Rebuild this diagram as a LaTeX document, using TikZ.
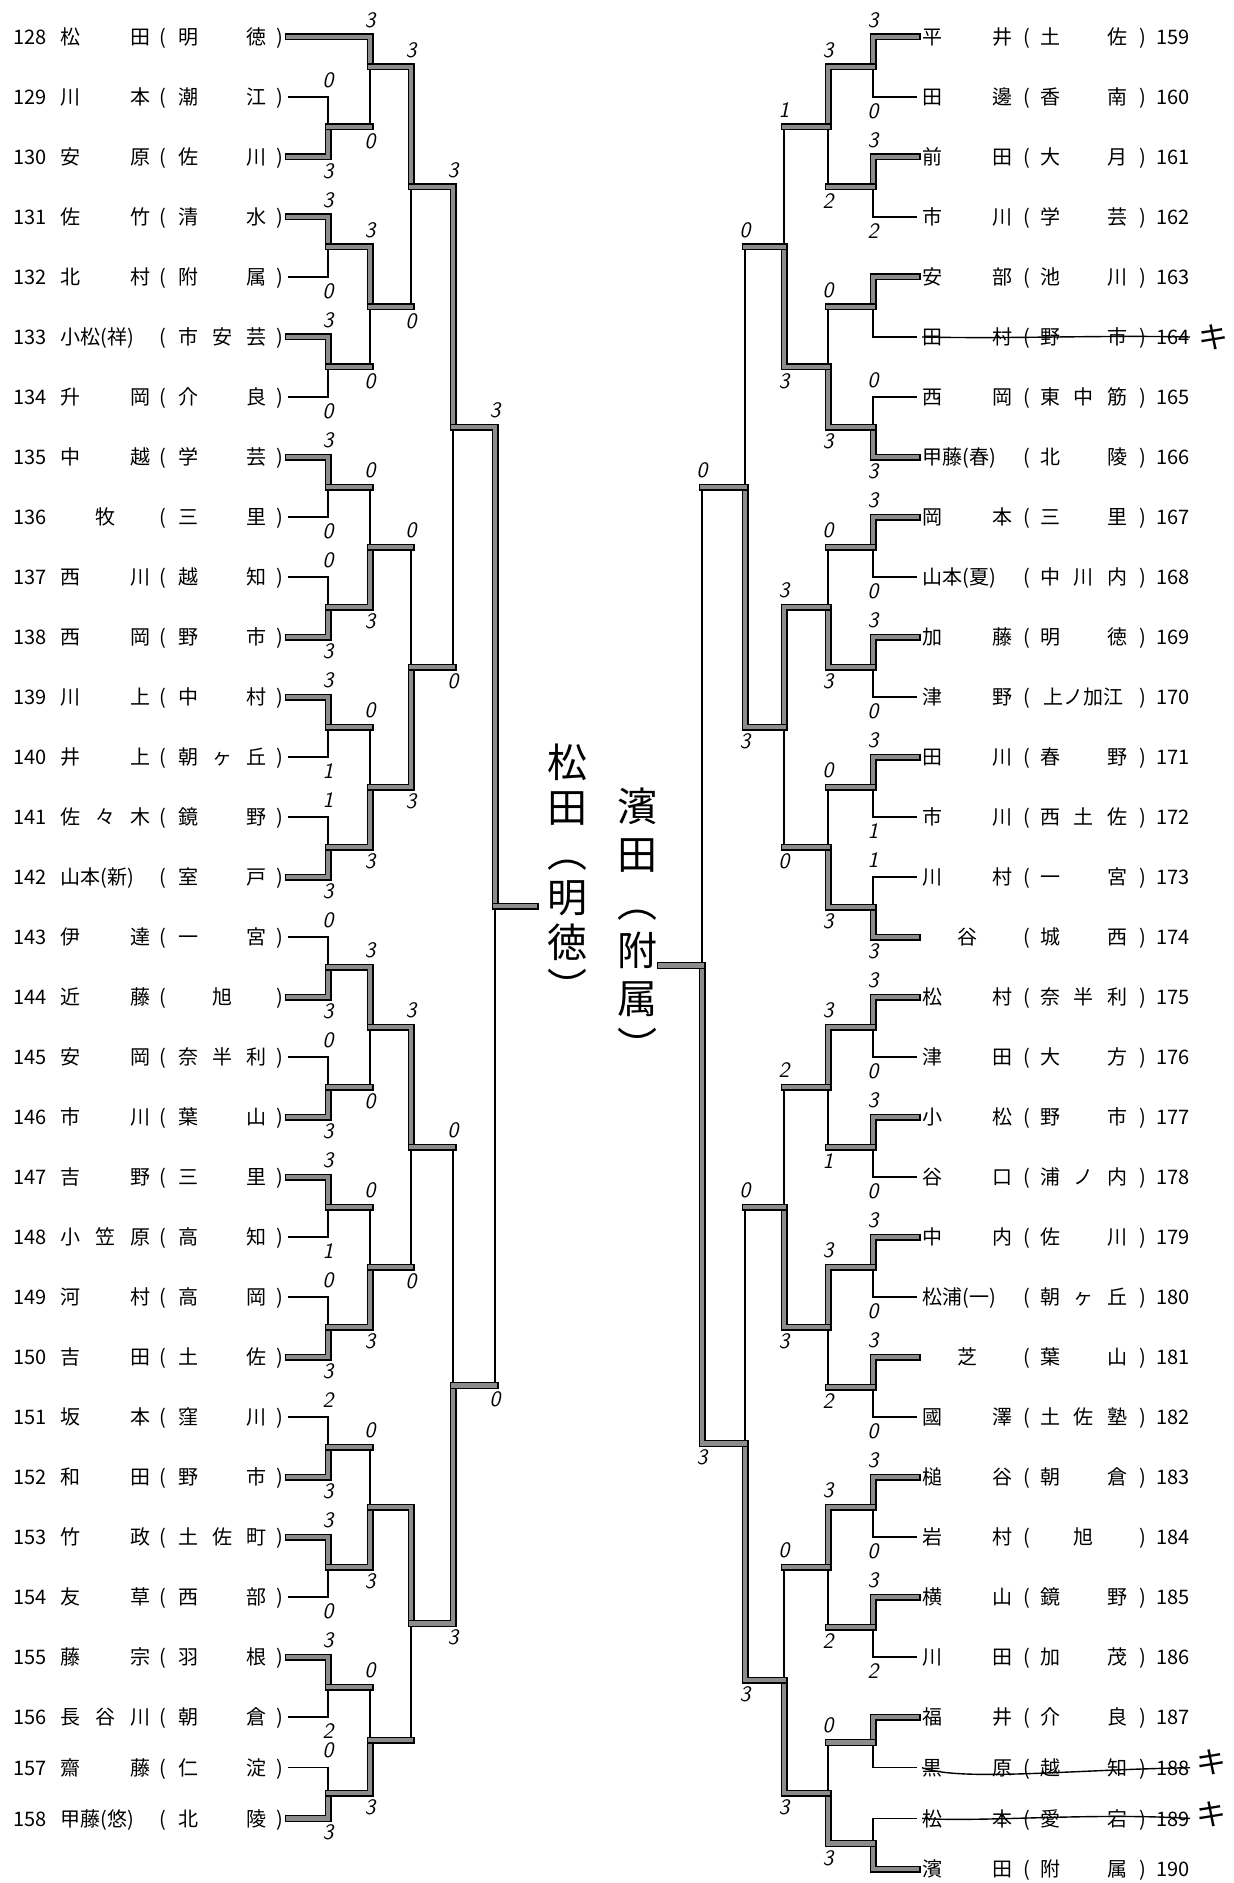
\documentclass[tikz,border=0pt]{standalone}
\usepackage{fontspec}
\newfontfamily\jp{Noto Sans CJK JP}
\usetikzlibrary{calc,positioning}

\begin{document}
\begin{tikzpicture}[x=0.5pt, y=-0.5pt,
    entry/.style={inner sep=0pt, text height=0.88em, text depth=0.12em,
      font=\jp\fontsize{10pt}{12pt}\selectfont},
    score/.style={inner sep=0pt, font=\sffamily\itshape\fontsize{11pt}{12pt}\selectfont},
    won/.style={line width=0.6pt, double=black!45, double distance=2.3pt, line cap=rect},
    lost/.style={line width=0.7pt},
    strike/.style={line width=0.7pt},
    kiken/.style={inner sep=0pt, font=\jp\fontsize{15pt}{18pt}\selectfont},
    champ/.style={inner sep=0pt, align=center, anchor=north}]
  \useasboundingbox (0,0) rectangle (1233,1883);
  % A junction: #1 = name, #2 = x of its vertical, #3/#4 = the points it sits midway between.
  \newcommand{\junction}[4]{%
    \coordinate (#1) at ($(#3)!0.5!(#4)$);
    \coordinate (#1) at (#1 -| #2,0);}
  % One side of a bout, from feeder #1 to junction #2.
  \newcommand{\feedwin}[2]{\draw[won] (#1) -- (#1 -| #2) -- (#2);}
  \newcommand{\feedlose}[2]{\draw[lost] (#1) -- (#1 -| #2) -- (#2);}
  \newcommand{\feedout}[2]{\draw[lost] (#1 -| #2) -- (#2); \draw[won] (#1) -- (#1 -| #2);}
  % A bout: #1 = junction, #2/#3 = upper/lower feeder, #4/#5 = win, lose or out, #6/#7 = scores.
  \newcommand{\bout}[7]{%
    \csname feed#4\endcsname{#2}{#1}%
    \csname feed#5\endcsname{#3}{#1}%
    \node[score, above=4.5pt] (#1u) at (#2 -| #1) {#6};
    \node[score, below=3pt] (#1l) at (#3 -| #1) {#7};}

  % left block: 128 to 158
  \foreach \id/\na/\nb/\nc/\ha/\hb/\hc [count=\k from 0] in {
      128/松//田/明//徳, 129/川//本/潮//江, 130/安//原/佐//川, 131/佐//竹/清//水,
      132/北//村/附//属, 133/{小松(祥)}///市/安/芸, 134/升//岡/介//良, 135/中//越/学//芸,
      136//牧//三//里, 137/西//川/越//知, 138/西//岡/野//市, 139/川//上/中//村,
      140/井//上/朝/ヶ/丘, 141/佐/々/木/鏡//野, 142/{山本(新)}///室//戸, 143/伊//達/一//宮,
      144/近//藤//旭/{}, 145/安//岡/奈/半/利, 146/市//川/葉//山, 147/吉//野/三//里,
      148/小/笠/原/高//知, 149/河//村/高//岡, 150/吉//田/土//佐, 151/坂//本/窪//川,
      152/和//田/野//市, 153/竹//政/土/佐/町, 154/友//草/西//部, 155/藤//宗/羽//根,
      156/長/谷/川/朝//倉, 157/齋//藤/仁//淀, 158/{甲藤(悠)}///北//陵}{
    \pgfmathsetmacro\yy{37+60*\k-(\k>28)*(\k-28)*9.3}
    \node[entry] (no\id) at (30,\yy) {\id};
    \node[entry, anchor=west] (na\id) at (60,\yy) {\na};
    \node[entry] (nb\id) at (105,\yy) {\nb};
    \node[entry] (nc\id) at (140,\yy) {\nc};
    \node[entry] (op\id) at (163,\yy) {(};
    \node[entry] (sa\id) at (188,\yy) {\ha};
    \node[entry] (sb\id) at (222,\yy) {\hb};
    \node[entry] (sc\id) at (256,\yy) {\hc};
    \node[entry] (cp\id) at (280,\yy) {)};
    \coordinate (e\id) at (288,\yy);}

  % right block: 159 to 190
  \foreach \id/\na/\nb/\nc/\ha/\hb/\hc [count=\k from 0] in {
      159/平//井/土//佐, 160/田//邊/香//南, 161/前//田/大//月, 162/市//川/学//芸,
      163/安//部/池//川, 164/田//村/野//市, 165/西//岡/東/中/筋, 166/{甲藤(春)}///北//陵,
      167/岡//本/三//里, 168/{山本(夏)}///中/川/内, 169/加//藤/明//徳, 170/津//野//上ノ加江/{},
      171/田//川/春//野, 172/市//川/西/土/佐, 173/川//村/一//宮, 174//谷//城//西,
      175/松//村/奈/半/利, 176/津//田/大//方, 177/小//松/野//市, 178/谷//口/浦/ノ/内,
      179/中//内/佐//川, 180/{松浦(一)}///朝/ヶ/丘, 181//芝//葉//山, 182/國//澤/土/佐/塾,
      183/槌//谷/朝//倉, 184/岩//村//旭/{}, 185/横//山/鏡//野, 186/川//田/加//茂,
      187/福//井/介//良, 188/黒//原/越//知, 189/松//本/愛//宕, 190/濱//田/附//属}{
    \pgfmathsetmacro\yy{37+60*\k-(\k>28)*(\k-28)*9.3}
    \node[entry] (no\id) at (1173,\yy) {\id};
    \node[entry, anchor=west] (na\id) at (922,\yy) {\na};
    \node[entry] (nb\id) at (967,\yy) {\nb};
    \node[entry] (nc\id) at (1002,\yy) {\nc};
    \node[entry] (op\id) at (1027,\yy) {(};
    \node[entry] (sa\id) at (1050,\yy) {\ha};
    \node[entry] (sb\id) at (1083,\yy) {\hb};
    \node[entry] (sc\id) at (1117,\yy) {\hc};
    \node[entry] (cp\id) at (1143,\yy) {)};
    \coordinate (e\id) at (917,\yy);}

  % left bracket
  \foreach \hi/\lo/\rh/\rl/\gh/\gl in {129/130/lose/win/0/3, 131/132/win/lose/3/0,
      133/134/win/lose/3/0, 135/136/win/lose/3/0, 137/138/lose/win/0/3, 139/140/win/lose/3/1,
      141/142/lose/win/1/3, 143/144/lose/win/0/3, 145/146/lose/win/0/3, 147/148/win/lose/3/1,
      149/150/lose/win/0/3, 151/152/lose/win/2/3, 153/154/win/lose/3/0, 155/156/win/lose/3/2,
      157/158/lose/win/0/3}{
    \junction{m\hi}{328}{e\hi}{e\lo}
    \bout{m\hi}{e\hi}{e\lo}{\rh}{\rl}{\gh}{\gl}}
  \junction{q128}{370}{e128}{e129}
  \bout{q128}{e128}{m129}{win}{out}{3}{0}
  \foreach \j/\hi/\lo/\rh/\rl/\gh/\gl in {131/m131/m133/win/out/3/0, 135/m135/m137/out/win/0/3,
      139/m139/m141/out/win/0/3, 143/m143/m145/win/out/3/0, 147/m147/m149/out/win/0/3,
      151/m151/m153/out/win/0/3, 155/m155/m157/out/win/0/3}{
    \junction{q\j}{370}{\hi}{\lo}
    \bout{q\j}{\hi}{\lo}{\rh}{\rl}{\gh}{\gl}}
  \foreach \j/\hi/\lo/\rh/\rl/\gh/\gl in {128/q128/q131/win/out/3/0, 135/q135/q139/out/win/0/3,
      143/q143/q147/win/out/3/0, 151/q151/q155/win/out/{}/{}}{
    \junction{t\j}{411}{\hi}{\lo}
    \bout{t\j}{\hi}{\lo}{\rh}{\rl}{\gh}{\gl}}
  \junction{f128}{453}{t128}{t135}
  \bout{f128}{t128}{t135}{win}{out}{3}{0}
  \junction{f143}{453}{t143}{t151}
  \bout{f143}{t143}{t151}{out}{win}{0}{3}
  \junction{s128}{495}{f128}{f143}
  \bout{s128}{f128}{f143}{win}{out}{3}{0}
  \coordinate (wl) at (s128 -| 535,0);
  \draw[won] (s128) -- (wl);

  % right bracket
  \foreach \hi/\lo/\rh/\rl/\gh/\gl in {159/160/win/lose/3/0, 161/162/win/lose/3/2,
      163/164/win/lose/{}/{}, 165/166/lose/win/0/3, 167/168/win/lose/3/0, 169/170/win/lose/3/0,
      171/172/win/lose/3/1, 173/174/lose/win/1/3, 175/176/win/lose/3/0, 177/178/win/lose/3/0,
      179/180/win/lose/3/0, 181/182/win/lose/3/0, 183/184/win/lose/3/0, 185/186/win/lose/3/2,
      187/188/win/lose/{}/{}, 189/190/lose/win/{}/{}}{
    \junction{m\hi}{873}{e\hi}{e\lo}
    \bout{m\hi}{e\hi}{e\lo}{\rh}{\rl}{\gh}{\gl}}
  \foreach \j/\hi/\lo/\rh/\rl/\gh/\gl in {159/m159/m161/win/out/3/2, 163/m163/m165/out/win/0/3,
      167/m167/m169/out/win/0/3, 171/m171/m173/out/win/0/3, 175/m175/m177/win/out/3/1,
      179/m179/m181/win/out/3/2, 183/m183/m185/win/out/3/2, 187/m187/m189/out/win/0/3}{
    \junction{q\j}{828}{\hi}{\lo}
    \bout{q\j}{\hi}{\lo}{\rh}{\rl}{\gh}{\gl}}
  \foreach \j/\hi/\lo/\rh/\rl/\gh/\gl in {159/q159/q163/out/win/1/3, 167/q167/q171/win/out/3/0,
      175/q175/q179/out/win/2/3, 183/q183/q187/out/win/0/3}{
    \junction{t\j}{784}{\hi}{\lo}
    \bout{t\j}{\hi}{\lo}{\rh}{\rl}{\gh}{\gl}}
  \junction{f159}{745}{t159}{t167}
  \bout{f159}{t159}{t167}{out}{win}{0}{3}
  \junction{f175}{745}{t175}{t183}
  \bout{f175}{t175}{t183}{out}{win}{0}{3}
  \junction{s159}{702}{f159}{f175}
  \bout{s159}{f159}{f175}{out}{win}{0}{3}
  \coordinate (wr) at (s159 -| 660,0);
  \draw[won] (s159) -- (wr);

  % withdrawn entries
  \draw[strike] (na164.west) .. controls +(90,2) and +(-90,-2) .. (no164.east);
  \draw[strike] (na188.west) .. controls +(40,14) and +(-120,2) .. (no188.east);
  \draw[strike] (na189.west) .. controls +(60,4) and +(-100,-6) .. (no189.east);
  \node[kiken] (ki164) at (1213,337) {キ};
  \node[kiken] (ki188) at (1211,1762) {キ};
  \node[kiken] (ki189) at (1211,1814) {キ};

  % the two finalists
  \node[champ, font=\jp\fontsize{20pt}{22.5pt}\selectfont] (champL) at (567,743)
    {松\\田\\︵\\明\\徳\\︶};
  \node[champ, font=\jp\fontsize{20pt}{24pt}\selectfont] (champR) at (637,787)
    {濱\\田\\︵\\附\\属\\︶};
\end{tikzpicture}
\end{document}
